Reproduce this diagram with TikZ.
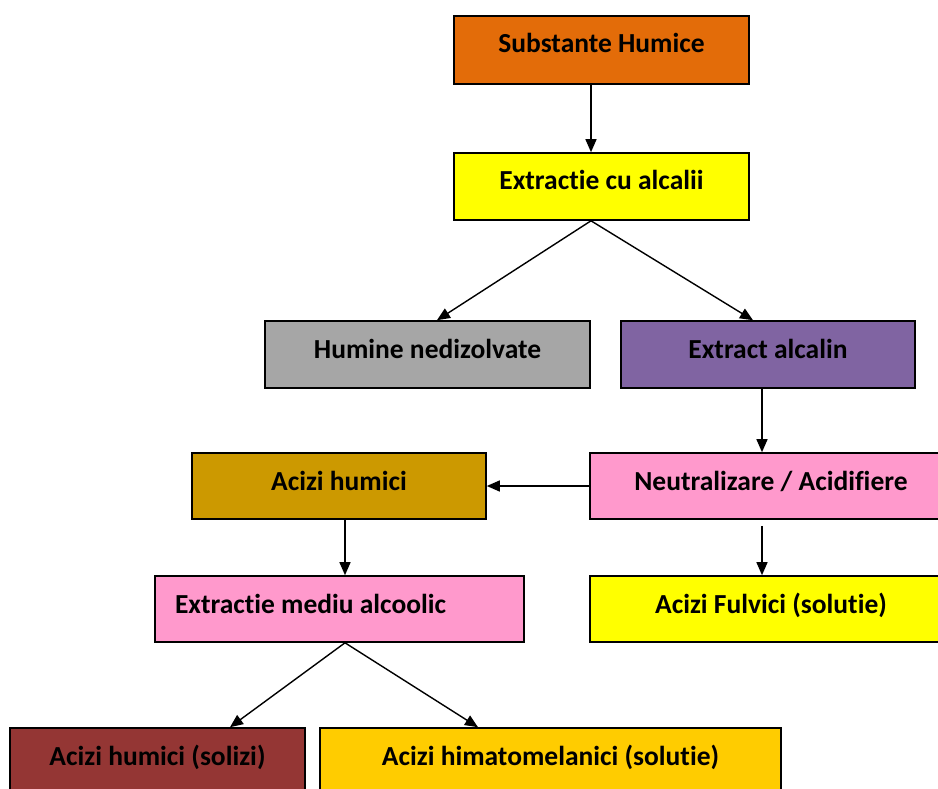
\documentclass[tikz,border=0pt]{standalone}
\usepackage{fontspec}
\setmainfont{Carlito}[Ligatures=NoCommon]
\usetikzlibrary{arrows.meta}
\definecolor{cOrange}{HTML}{E36C09}
\definecolor{cYellow}{HTML}{FFFF00}
\definecolor{cGray}{HTML}{A6A6A6}
\definecolor{cPurple}{HTML}{8064A2}
\definecolor{cGold}{HTML}{CC9900}
\definecolor{cPink}{HTML}{FF99CC}
\definecolor{cRed}{HTML}{943634}
\definecolor{cAmber}{HTML}{FFCC00}
\tikzset{
  boxnode/.style={draw=black, line width=1.6pt, rectangle, inner xsep=0pt, inner ysep=0pt,
    text height=37pt, text depth=30pt, align=center,
    font=\fontsize{27.5}{32}\selectfont\bfseries},
  arr/.style={line width=1.4pt, -{Triangle[length=13pt,width=11pt]}}
}
\begin{document}
\begin{tikzpicture}[x=1pt,y=-1pt]
\useasboundingbox (0,0) rectangle (938,789);
\clip (0,0) rectangle (938,789);
\fill[white] (0,0) rectangle (938,789);

\node[boxnode, fill=cOrange, minimum width=295pt, text depth=31pt] (sub) at (601.5,50) {Substante Humice};
\node[boxnode, fill=cYellow, minimum width=295pt] (ext) at (601.5,186.5) {Extractie cu alcalii};
\node[boxnode, fill=cGray, minimum width=325pt] (hum) at (427.5,354.5) {Humine nedizolvate};
\node[boxnode, fill=cPurple, minimum width=294pt] (alc) at (768,354.5) {Extract alcalin};
\node[boxnode, fill=cGold, minimum width=294pt, text depth=29pt] (ah) at (339,486) {Acizi humici};
\node[boxnode, fill=cPink, minimum width=362pt, text depth=29pt] (neu) at (771,486) {Neutralizare / Acidifiere};
\node[boxnode, fill=cPink, text width=329pt, inner xsep=20pt, align=flush left, text depth=29pt] (emd) at (339.5,609) {Extractie mediu alcoolic};
\node[boxnode, fill=cYellow, minimum width=362pt, text depth=29pt] (ful) at (771,609) {Acizi Fulvici (solutie)};
\node[boxnode, fill=cRed, minimum width=295pt, text depth=35pt] (sol) at (157.5,764) {Acizi humici (solizi)};
\node[boxnode, fill=cAmber, minimum width=461pt, text depth=35pt] (him) at (550.5,764) {Acizi himatomelanici (solutie)};

\draw[arr] ([xshift=-10.5pt]sub.south) -- ([xshift=-10.5pt]ext.north);
\draw[arr] ([xshift=-10.5pt]ext.south) -- ([xshift=9.5pt]hum.north);
\draw[arr] ([xshift=-10.5pt]ext.south) -- ([xshift=-15pt]alc.north);
\draw[arr] ([xshift=-6pt]alc.south) -- ([xshift=-6pt]alc.south |- neu.north);
\draw[arr] (neu.west) -- (ah.east);
\draw[arr] ([xshift=-9pt,yshift=-6pt]neu.south) -- ([xshift=-9pt]neu.south |- ful.north);
\draw[arr] ([xshift=6pt]ah.south) -- ([xshift=6pt]ah.south |- emd.north);
\draw[arr] ([xshift=5.5pt]emd.south) -- ([xshift=72.5pt]sol.north);
\draw[arr] ([xshift=5.5pt]emd.south) -- ([xshift=-72.5pt]him.north);
\end{tikzpicture}
\end{document}
